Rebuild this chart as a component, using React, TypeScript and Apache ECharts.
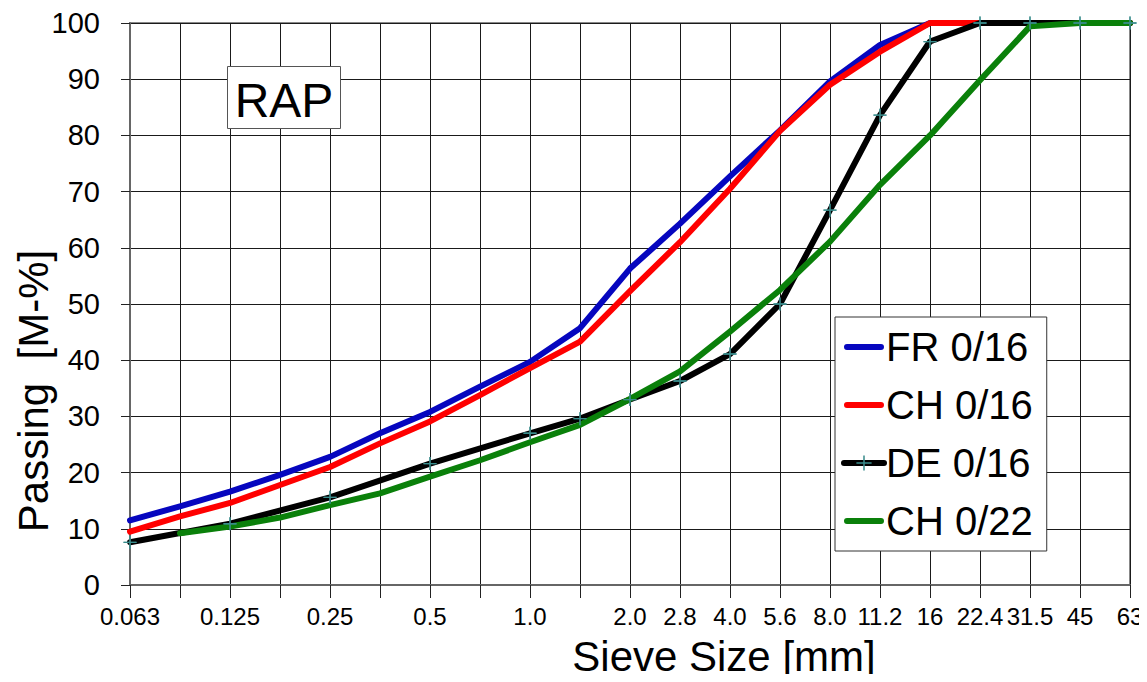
import React, { useEffect, useRef } from "react";
import * as echarts from "echarts";

const sieveSizes = ["0.063", "0.09", "0.125", "0.18", "0.25", "0.355", "0.5", "0.71", "1.0", "1.4", "2.0", "2.8", "4.0", "5.6", "8.0", "11.2", "16", "22.4", "31.5", "45", "63"];
const tickLabels = ["0.063", "", "0.125", "", "0.25", "", "0.5", "", "1.0", "", "2.0", "2.8", "4.0", "5.6", "8.0", "11.2", "16", "22.4", "31.5", "45", "63"];

const fr016 = [11.5, 14.0, 16.6, 19.6, 22.8, 27.0, 30.8, 35.3, 39.7, 45.7, 56.3, 64.3, 72.7, 80.9, 89.6, 96.1, 100, 100, 100, 100, 100];
const ch016 = [9.5, 12.2, 14.6, 17.8, 21.0, 25.2, 29.1, 33.8, 38.6, 43.3, 52.3, 61.0, 70.5, 80.8, 89.0, 94.9, 100, 100, 100, 100, 100];
const de016 = [7.6, null, 10.9, null, 15.6, null, 21.6, null, 27.0, 29.6, 33.0, 36.3, 41.1, 50.0, 66.7, 83.6, 96.7, 100, 100, 100, 100];
const ch022 = [null, 9.2, 10.4, 12.0, 14.2, 16.3, 19.3, 22.2, 25.4, 28.5, 33.1, 38.0, 45.1, 52.5, 61.1, 71.2, 80.0, 89.8, 99.4, 100, 100];

const seriesNames = ["FR 0/16", "CH 0/16", "DE 0/16", "CH 0/22"];
const seriesColors = ["#0606bf", "#ff0000", "#000000", "#0a800a"];

const yTicks = [0, 10, 20, 30, 40, 50, 60, 70, 80, 90, 100];

const CROSS = "path://M6.3,0 L7.7,0 L7.7,6.3 L14,6.3 L14,7.7 L7.7,7.7 L7.7,14 L6.3,14 L6.3,7.7 L0,7.7 L0,6.3 L6.3,6.3 Z";
const LINE_ICON = "path://M3,0 L37,0 A3,3 0 0 1 37,6 L3,6 A3,3 0 0 1 3,0 Z";
const MARKER_COLOR = "#3a8c8c";
const FONT = "'Liberation Sans', Arial, sans-serif";

export default function App() {
  const ref = useRef<HTMLDivElement>(null);
  useEffect(() => {
    if (!ref.current) return;
    const chart = echarts.init(ref.current, null, { renderer: "svg" });
    const values = [fr016, ch016, de016, ch022];
    const lineSeries = values.map((d, i) => ({
      name: seriesNames[i],
      type: "line",
      data: d,
      connectNulls: true,
      clip: false,
      symbol: i === 2 ? CROSS : "none",
      symbolSize: 13,
      showSymbol: i === 2,
      itemStyle: { color: i === 2 ? MARKER_COLOR : seriesColors[i] },
      lineStyle: { color: seriesColors[i], width: 6, join: "round", cap: "round" },
      z: 2,
    }));
    const option: any = {
      animation: false,
      backgroundColor: "#ffffff",
      grid: { left: 130, right: 17, top: 23, bottom: 97, containLabel: false, outerBoundsMode: "none", show: true, borderColor: "#888", borderWidth: 2, backgroundColor: "transparent" },
      xAxis: {
        type: "category",
        data: sieveSizes,
        boundaryGap: false,
        axisLine: { show: true, lineStyle: { color: "#666", width: 2 } },
        axisTick: { show: true, length: 13, interval: 0, lineStyle: { color: "#222", width: 1 } },
        axisLabel: {
          interval: 0,
          margin: 19,
          color: "#000",
          fontSize: 24,
          fontFamily: FONT,
          formatter: (_v: string, i: number) => tickLabels[i],
          hideOverlap: false,
        },
        splitLine: { show: true, interval: 0, lineStyle: { color: "#1a1a1a", width: 1 } },
      },
      yAxis: {
        type: "value",
        min: yTicks[0],
        max: yTicks[yTicks.length - 1],
        interval: 10,
        axisLine: { show: true, lineStyle: { color: "#666", width: 2 } },
        axisTick: { show: true, length: 9, lineStyle: { color: "#222", width: 1 } },
        axisLabel: { margin: 30, color: "#000", fontSize: 29, fontFamily: FONT },
        splitLine: { show: true, lineStyle: { color: "#1a1a1a", width: 1 } },
      },
      legend: {
        data: seriesNames.map((n, i) => (i === 2 ? { name: n } : { name: n, icon: LINE_ICON })),
        orient: "vertical",
        left: 835,
        top: 317,
        padding: [10, 14, 10, 6],
        itemGap: 18,
        itemWidth: 40,
        itemHeight: 19,
        lineStyle: { width: 6, cap: "round" },
        backgroundColor: "#fff",
        borderColor: "#333",
        borderWidth: 1,
        borderRadius: 0,
        textStyle: { color: "#000", fontSize: 40, fontFamily: FONT, lineHeight: 40, padding: [0, 0, 0, -3] },
      },
      graphic: [
        {
          type: "group",
          children: [
            { type: "rect", shape: { x: 227.5, y: 66.5, width: 113, height: 62 }, style: { fill: "#fff", stroke: "#555", lineWidth: 1 }, z: 10 },
            { type: "text", x: 284, y: 100, style: { text: "RAP", fontSize: 48, fontFamily: FONT, fill: "#000", textAlign: "center", textVerticalAlign: "middle" }, z: 11 },
          ],
        },
        { type: "text", x: 33, y: 391, rotation: Math.PI / 2, style: { text: "Passing  [M-%]", fontSize: 42, fontFamily: FONT, fill: "#000", textAlign: "center", textVerticalAlign: "middle" } },
        { type: "text", x: 724, y: 656, style: { text: "Sieve Size [mm]", fontSize: 42, fontFamily: FONT, fill: "#000", textAlign: "center", textVerticalAlign: "middle" } },
      ],
      series: [
        ...lineSeries,
        {
          name: "DE 0/16 markers",
          type: "scatter",
          data: de016,
          symbol: CROSS,
          symbolSize: 13,
          clip: false,
          itemStyle: { color: MARKER_COLOR },
          z: 5,
          silent: true,
        },
      ],
    };
    chart.setOption(option);
    return () => chart.dispose();
  }, []);
  return <div ref={ref} style={{ width: 1147, height: 682, margin: -8 }} />;
}
